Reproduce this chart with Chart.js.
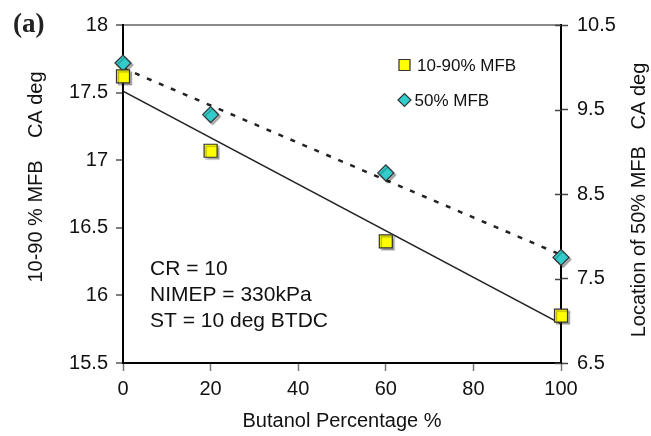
<!DOCTYPE html>
<html>
<head>
<meta charset="utf-8">
<script src="https://cdn.jsdelivr.net/npm/chart.js@4.4.1/dist/chart.umd.min.js"></script>
<style>
  html, body { margin: 0; padding: 0; background: #fff; }
</style>
</head>
<body>
<canvas id="chart" width="651" height="436"></canvas>
<script>
// values
const butanolPct = [0, 20, 60, 100];
const mfb1090 = [17.62, 17.07, 16.40, 15.85];   // left axis
const mfb50 = [10.05, 9.44, 8.75, 7.75];        // right axis
const trendX = [0, 100];
const trend1090 = [17.51, 15.79];
const trend50 = [9.99, 7.78];
const xTicks = [0, 20, 40, 60, 80, 100];
const leftTicks = [15.5, 16, 16.5, 17, 17.5, 18];
const rightTicks = [6.5, 7.5, 8.5, 9.5, 10.5];
const seriesLabels = ['10-90% MFB', '50% MFB'];
const leftTitle = '10-90 % MFB    CA deg';
const rightTitle = 'Location of 50% MFB   CA deg';
const xTitle = 'Butanol Percentage %';
const notes = ['CR = 10', 'NIMEP = 330kPa', 'ST = 10 deg BTDC'];
const panelTag = '(a)';

const FONT = "'Liberation Sans', Arial, sans-serif";
const TEXT = '#111';

const pts = (xs, ys) => xs.map((x, i) => ({ x: x, y: ys[i] }));
const setTicks = list => scale => { scale.ticks = list.map(v => ({ value: v })); };

const extras = {
    id: 'extras',
    beforeDatasetDraw(chart, args) {
        const ds = chart.data.datasets[args.index];
        if (ds.showLine) return;
        const ctx = chart.ctx;
        ctx.save();
        ctx.shadowColor = 'rgba(0,0,0,0.3)';
        ctx.shadowOffsetX = 2;
        ctx.shadowOffsetY = 2;
        ctx.shadowBlur = 1;
    },
    afterDatasetDraw(chart, args) {
        if (chart.data.datasets[args.index].showLine) return;
        chart.ctx.restore();
    },
    afterDraw(chart) {
        const ctx = chart.ctx;
        const ca = chart.chartArea;
        const y2 = chart.scales.y2;
        const mid = (ca.top + ca.bottom) / 2;
        ctx.save();

        // inner half of the right axis tick marks
        ctx.strokeStyle = '#444';
        ctx.lineWidth = 1.5;
        y2.ticks.forEach(t => {
            const py = Math.round(y2.getPixelForValue(t.value)) + 0.5;
            ctx.beginPath();
            ctx.moveTo(ca.right - 6, py);
            ctx.lineTo(ca.right, py);
            ctx.stroke();
        });

        // vertical axis titles, both read bottom to top
        ctx.fillStyle = TEXT;
        ctx.font = '20px ' + FONT;
        ctx.textAlign = 'center';
        ctx.textBaseline = 'middle';
        [[ca.left - 87, mid - 17, leftTitle], [ca.right + 78, mid + 6, rightTitle]].forEach(([tx, ty, txt]) => {
            ctx.save();
            ctx.translate(tx, ty);
            ctx.rotate(-Math.PI / 2);
            ctx.fillText(txt, 0, 0);
            ctx.restore();
        });

        // legend inside the plot
        const markers = chart.data.datasets.filter(d => !d.showLine);
        ctx.textAlign = 'left';
        ctx.textBaseline = 'alphabetic';
        ctx.font = '17px ' + FONT;
        markers.forEach((d, i) => {
            const lx = ca.left + 281.5;
            const ly = ca.top + 40 + i * 35;
            ctx.fillStyle = d.backgroundColor;
            ctx.strokeStyle = d.borderColor;
            ctx.lineWidth = 1.2;
            Chart.helpers.drawPoint(ctx, {
                pointStyle: d.pointStyle,
                radius: d.pointStyle === 'rect' ? 7.8 : 6.5,
                borderWidth: 1.2,
                rotation: 0
            }, lx, ly);
            ctx.fillStyle = TEXT;
            ctx.fillText(d.label, lx + (d.pointStyle === 'rect' ? 12.5 : 10), ly + 6);
        });

        // run conditions
        ctx.font = '21px ' + FONT;
        notes.forEach((n, i) => {
            ctx.fillText(n, ca.left + 27, ca.top + 250 + i * 26);
        });

        // panel tag
        ctx.font = "bold 27px 'Liberation Serif', 'Times New Roman', serif";
        ctx.textBaseline = 'middle';
        ctx.fillStyle = '#222';
        ctx.fillText(panelTag, 13, 25);
        ctx.restore();
    }
};

new Chart(document.getElementById('chart'), {
    type: 'scatter',
    data: {
        datasets: [
            {
                label: seriesLabels[0],
                data: pts(butanolPct, mfb1090),
                yAxisID: 'y',
                pointStyle: 'rect',
                pointRadius: 9.2,
                pointHoverRadius: 9.2,
                backgroundColor: '#ffff00',
                borderColor: '#333333',
                pointBorderWidth: 1.2,
                clip: false,
                order: 0
            },
            {
                label: seriesLabels[1],
                data: pts(butanolPct, mfb50),
                yAxisID: 'y2',
                pointStyle: 'rectRot',
                pointRadius: 8,
                pointHoverRadius: 8,
                backgroundColor: '#33cccc',
                borderColor: '#333333',
                pointBorderWidth: 1.2,
                clip: false,
                order: 0
            },
            {
                label: 'trend 10-90',
                data: pts(trendX, trend1090),
                yAxisID: 'y',
                showLine: true,
                borderColor: '#222',
                borderWidth: 1.5,
                pointRadius: 0,
                order: 1
            },
            {
                label: 'trend 50',
                data: pts(trendX, trend50),
                yAxisID: 'y2',
                showLine: true,
                borderColor: '#222',
                borderWidth: 2.5,
                borderDash: [5, 8],
                pointRadius: 0,
                order: 1
            }
        ]
    },
    options: {
        responsive: false,
        animation: false,
        layout: { padding: { top: 25, left: 0, right: 0, bottom: 0 } },
        plugins: {
            legend: { display: false },
            tooltip: { enabled: false }
        },
        scales: {
            x: {
                type: 'linear',
                min: 0,
                max: 100,
                afterBuildTicks: setTicks(xTicks),
                afterFit: s => { s.height = 73; },
                grid: { drawOnChartArea: false, tickLength: 8, tickColor: '#777', tickWidth: 1.5 },
                border: { color: '#000', width: 2 },
                ticks: { color: TEXT, font: { family: FONT, size: 20 }, padding: 6, maxRotation: 0 },
                title: {
                    display: true,
                    text: xTitle,
                    color: TEXT,
                    font: { family: FONT, size: 20 },
                    padding: { top: 4, bottom: 3 }
                }
            },
            y: {
                position: 'left',
                min: 15.5,
                max: 18,
                z: 1,
                afterBuildTicks: setTicks(leftTicks),
                afterFit: s => { s.width = 123; },
                grid: {
                    drawOnChartArea: true,
                    color: c => (c.tick && c.tick.value === 18 ? '#8a8a8a' : 'rgba(0,0,0,0)'),
                    lineWidth: 2,
                    tickLength: 7,
                    tickColor: '#555',
                    tickWidth: 1.5
                },
                border: { color: '#000', width: 2 },
                ticks: { color: TEXT, font: { family: FONT, size: 20 }, padding: 8, callback: v => String(v) }
            },
            y2: {
                position: 'right',
                min: 6.5,
                max: 10.5,
                z: 1,
                afterBuildTicks: setTicks(rightTicks),
                afterFit: s => { s.width = 90; },
                grid: { drawOnChartArea: false, tickLength: 7, tickColor: '#444', tickWidth: 1.5 },
                border: { color: '#000', width: 2 },
                ticks: { color: TEXT, font: { family: FONT, size: 20 }, padding: 9, callback: v => String(v) }
            }
        }
    },
    plugins: [extras]
});
</script>
</body>
</html>
